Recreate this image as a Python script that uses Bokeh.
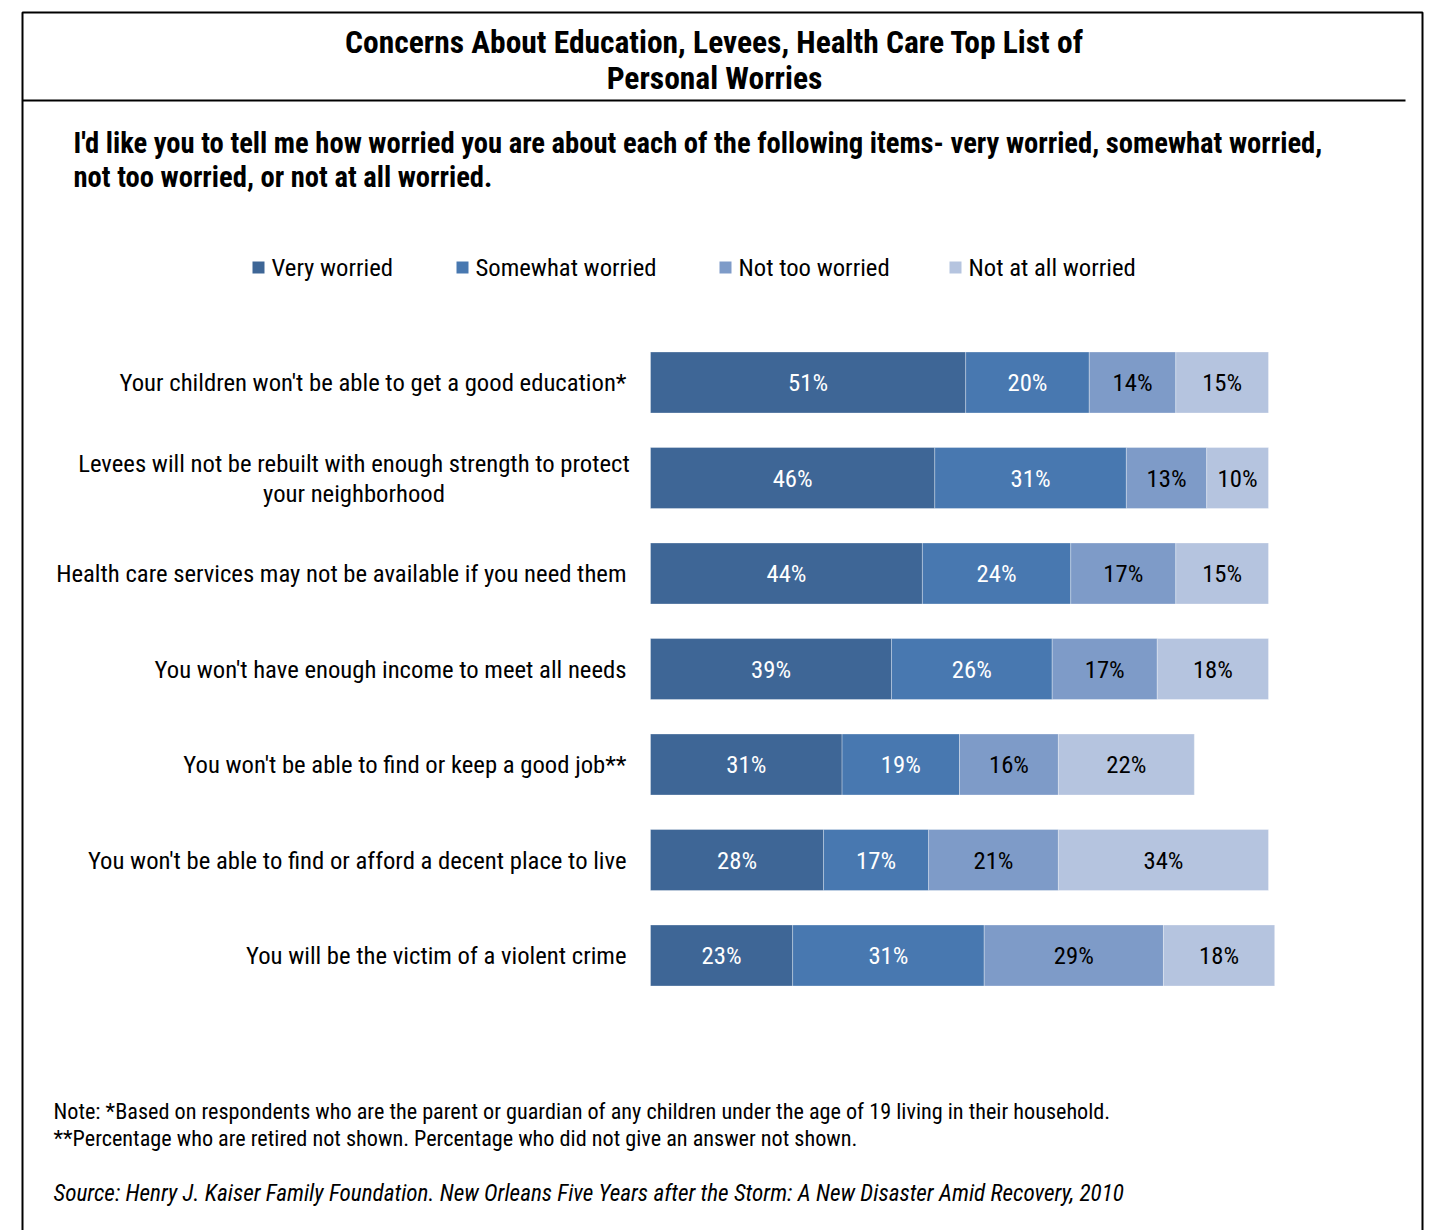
from bokeh.plotting import figure
from bokeh.models import Range1d, ColumnDataSource
from bokeh.core.properties import value
from bokeh.embed import file_html
from bokeh.resources import INLINE

categories = [
    "Your children won't be able to get a good education*",
    "Levees will not be rebuilt with enough strength to protect\nyour neighborhood",
    "Health care services may not be available if you need them",
    "You won't have enough income to meet all needs",
    "You won't be able to find or keep a good job**",
    "You won't be able to find or afford a decent place to live",
    "You will be the victim of a violent crime",
]
very = [51, 46, 44, 39, 31, 28, 23]
somewhat = [20, 31, 24, 26, 19, 17, 31]
not_too = [14, 13, 17, 17, 16, 21, 29]
not_at_all = [15, 10, 15, 18, 22, 34, 18]
series_names = ["Very worried", "Somewhat worried", "Not too worried", "Not at all worried"]
series = [very, somewhat, not_too, not_at_all]
colors = ["#3E6696", "#4878B0", "#7E9BC8", "#B5C4DF"]
label_colors = ["white", "white", "black", "black"]

title_lines = ["Concerns About Education, Levees, Health Care Top List of", "Personal Worries"]
subtitle_lines = [
    "I'd like you to tell me how worried you are about each of the following items- very worried, somewhat worried,",
    "not too worried, or not at all worried.",
]
note_lines = [
    "Note: *Based on respondents who are the parent or guardian of any children under the age of 19 living in their household.",
    "**Percentage who are retired not shown. Percentage who did not give an answer not shown.",
]
source_line = "Source: Henry J. Kaiser Family Foundation. New Orleans Five Years after the Storm: A New Disaster Amid Recovery, 2010"

FONT = value("Roboto Condensed")
W, H = 1429, 1230
X0, PX = 650.0, 6.18
ROW0, ROWSTEP, BARH = 382.0, 95.5, 61
FS = "24.7px"


def px(x):
    return (x - X0) / PX


p = figure(width=W, height=H, x_range=Range1d(px(0), px(W)), y_range=Range1d(H, 0),
           output_backend="svg", toolbar_location=None, min_border=0,
           x_axis_location=None, y_axis_location=None)
p.grid.visible = False
p.outline_line_color = None
p.background_fill_color = "white"

# frame
p.quad(left=[px(22)], right=[px(1422)], top=[12], bottom=[1245], fill_color=None,
       line_color="black", line_width=2)
p.line(x=[px(22), px(1405)], y=[100, 100], line_color="black", line_width=2)

# title
for i, t in enumerate(title_lines):
    p.text(x=[px(714)], y=[42 + 36 * i], text=[t], text_font=FONT, text_font_style="bold",
           text_font_size="31.5px", text_align="center", text_baseline="middle", text_color="black")
for i, t in enumerate(subtitle_lines):
    p.text(x=[px(73)], y=[142 + 34 * i], text=[t], text_font=FONT, text_font_style="bold",
           text_font_size="28.6px", text_align="left", text_baseline="middle", text_color="black")

# legend
leg_sq = [252, 456, 719, 949]
for name, col, sx in zip(series_names, colors, leg_sq):
    p.scatter(x=[px(sx + 6)], y=[267], marker="square", size=12, fill_color=col, line_color=None)
    p.text(x=[px(sx + 19)], y=[267], text=[name], text_font=FONT, text_font_size=FS,
           text_align="left", text_baseline="middle", text_color="black")

# bars
ys = [ROW0 + ROWSTEP * i for i in range(len(categories))]
left = [0] * len(categories)
for vals, col, lc in zip(series, colors, label_colors):
    right = [l + v for l, v in zip(left, vals)]
    src = ColumnDataSource(dict(y=ys, left=left, right=right,
                                mid=[(l + r) / 2 for l, r in zip(left, right)],
                                lab=[f"{v}%" for v in vals]))
    p.hbar(y="y", left="left", right="right", height=BARH, source=src, fill_color=col,
           line_color="white", line_width=0.6, line_alpha=0.5)
    p.text(x="mid", y="y", text="lab", source=src, text_font=FONT, text_font_size=FS,
           text_align="center", text_baseline="middle", text_color=lc)
    left = right

# category labels
for cat, y in zip(categories, ys):
    if "\n" in cat:
        lines = cat.split("\n")
        for j, ln in enumerate(lines):
            p.text(x=[px(353.5)], y=[y - 15 + 30 * j], text=[ln], text_font=FONT,
                   text_font_size=FS, text_align="center", text_baseline="middle",
                   text_color="black")
    else:
        p.text(x=[px(626)], y=[y], text=[cat], text_font=FONT, text_font_size=FS,
               text_align="right", text_baseline="middle", text_color="black")

# notes
for i, t in enumerate(note_lines):
    p.text(x=[px(53)], y=[1110 + 27 * i], text=[t], text_font=FONT, text_font_size="22.2px",
           text_align="left", text_baseline="middle", text_color="black")
p.text(x=[px(53)], y=[1192], text=[source_line], text_font=FONT, text_font_size="23.2px",
       text_font_style="italic", text_align="left", text_baseline="middle", text_color="black")

open("out.html", "w").write(file_html(p, INLINE))
